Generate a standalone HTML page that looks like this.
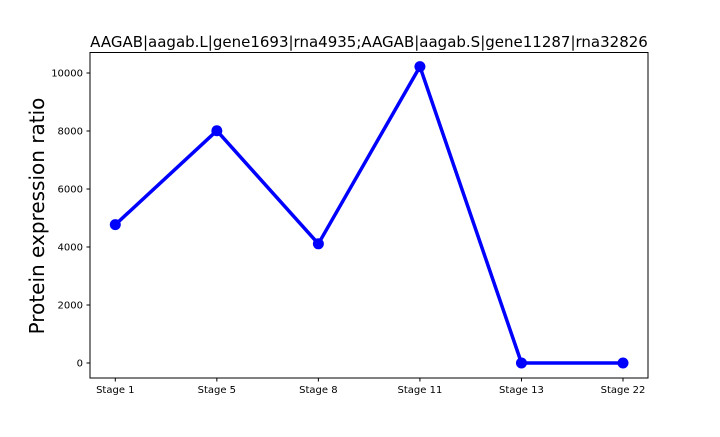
<!DOCTYPE html>
<html><head><meta charset="utf-8"><style>
body{margin:0;background:#fff;}
svg text{font-family:"DejaVu Sans","Liberation Sans",sans-serif;fill:#000;}
</style></head><body>
<svg id="chart" width="720" height="432">
<text x="369" y="47" font-size="15" text-anchor="middle">AAGAB|aagab.L|gene1693|rna4935;AAGAB|aagab.S|gene11287|rna32826</text>
<text transform="translate(44,216) rotate(-90)" font-size="20" text-anchor="middle">Protein expression ratio</text>
<g id="axes"></g>
<rect x="90" y="52.5" width="558" height="325.5" fill="none" stroke="#000" stroke-width="1"/>
</svg>
<script>
const categories=["Stage 1","Stage 5","Stage 8","Stage 11","Stage 13","Stage 22"];
const values=[4770,8010,4110,10220,0,0];
const yTicks=[0,2000,4000,6000,8000,10000];
const NS="http://www.w3.org/2000/svg";
const g=document.getElementById("axes");
function xS(i){return 115.3+i*(623-115.3)/(categories.length-1);}
function yS(v){return 363-v*(58/2000);}
function mk(t,a){const e=document.createElementNS(NS,t);for(const k in a)e.setAttribute(k,a[k]);g.appendChild(e);return e;}
yTicks.forEach(v=>{
 const l=mk("line",{x1:86.5,x2:90,y1:yS(v),y2:yS(v),stroke:"#000"});
 
 
 const t=mk("text",{x:83,y:yS(v)+3.5,"font-size":10,"text-anchor":"end"});t.textContent=v;
 
 
});
categories.forEach((c,i)=>{
 const l=mk("line",{x1:xS(i),x2:xS(i),y1:378,y2:381.5,stroke:"#000"});
 
 
 const t=mk("text",{x:xS(i),y:393,"font-size":10,"text-anchor":"middle"});t.textContent=c;
 
 
});
const pl=mk("polyline",{points:values.map((v,i)=>xS(i)+","+yS(v)).join(" "),fill:"none",stroke:"#0000ff","stroke-width":3.5,"stroke-linejoin":"round"});


values.forEach((v,i)=>{
 const c=mk("circle",{cx:xS(i),cy:yS(v),r:5.5,fill:"#0000ff"});
 
 
});
</script>
</body></html>
